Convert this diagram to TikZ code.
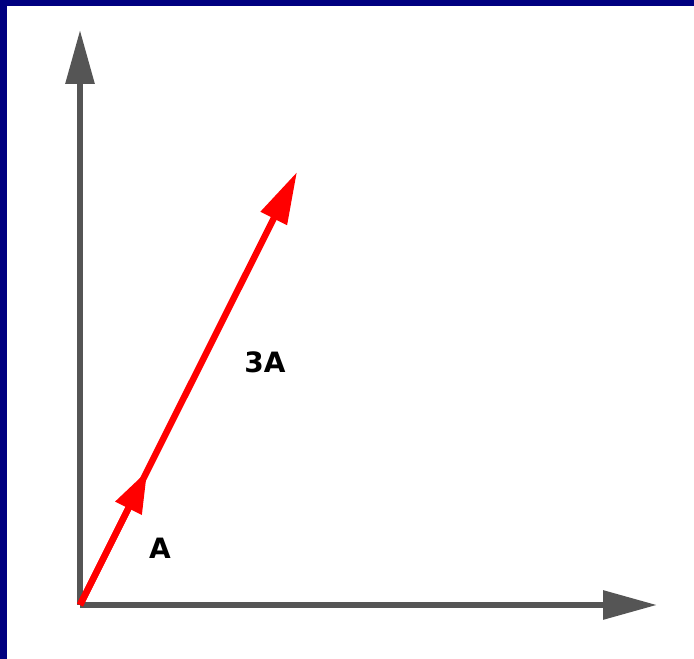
\documentclass[tikz,border=0pt]{standalone}
\usepackage{fontspec}
\newfontfamily\labelfont{DejaVu Sans}
\usetikzlibrary{arrows.meta,calc}
\definecolor{axisgray}{HTML}{555555}
\definecolor{framenavy}{HTML}{000080}
\tikzset{
  axis/.style={draw=axisgray, line width=6pt, -{Triangle[length=54pt,width=28pt]}},
  vec/.style={draw=red, line width=6.5pt},
  veclabel/.style={font=\labelfont\bfseries\fontsize{28}{28}\selectfont}
}
\begin{document}
\begin{tikzpicture}[x=1pt,y=1pt]
\fill[framenavy] (0,0) rectangle (694,659);
\fill[white] (7,0) rectangle (694,653);
\useasboundingbox (0,0) rectangle (694,659);
\coordinate (O) at (80,54);
\coordinate (ytip) at (80,629);
\coordinate (xtip) at (657,54);
\coordinate (Btip) at (297,487);
\coordinate (Atip) at ($(O)!0.31!(Btip)$);
\draw[axis] (O) -- (ytip);
\draw[axis] (O) -- (xtip);
% 3A first, then A on top of it
\draw[vec, -{Triangle[length=52pt,width=28pt]}] (O) -- (Btip);
\draw[vec, -{Triangle[length=42pt,width=28pt]}] (O) -- (Atip);
\node[veclabel] (labA) at (160,111) {A};
\node[veclabel] (lab3A) at (265,297) {3A};
\end{tikzpicture}
\end{document}
